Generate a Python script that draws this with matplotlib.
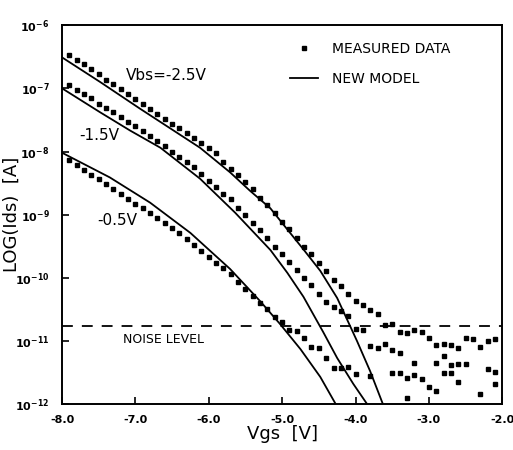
import numpy as np
import matplotlib
matplotlib.use("Agg")
import matplotlib.pyplot as plt

plt.rcParams['font.family'] = 'DejaVu Sans'
plt.rcParams['axes.unicode_minus'] = False

# gate voltage grid of the measured points (0.1 V steps)
vgs = np.round(np.arange(-7.9, -2.05, 0.1), 1)

# measured log10(Ids), one list per substrate bias
meas_25 = [-6.47, -6.55, -6.62, -6.70, -6.78, -6.86, -6.93, -7.01, -7.09, -7.17,
           -7.25, -7.32, -7.40, -7.48, -7.56, -7.63, -7.71, -7.79, -7.86, -7.95,
           -8.03, -8.16, -8.27, -8.38, -8.49, -8.60, -8.73, -8.84, -8.98, -9.11,
           -9.22, -9.37, -9.51, -9.63, -9.76, -9.90, -10.03, -10.13, -10.25, -10.37,
           -10.43, -10.51, -10.57, -10.75, -10.73, -10.86, -10.87, -10.83, -10.86, -10.95,
           -11.06, -11.05, -11.06, -11.11, -10.95, -10.97, -11.10, -11.00, -10.97]
meas_15 = [-6.94, -7.02, -7.09, -7.16, -7.24, -7.31, -7.38, -7.46, -7.53, -7.60,
           -7.68, -7.75, -7.83, -7.91, -8.00, -8.08, -8.17, -8.25, -8.35, -8.46,
           -8.57, -8.67, -8.76, -8.89, -9.00, -9.13, -9.24, -9.37, -9.51, -9.62,
           -9.75, -9.87, -10.00, -10.11, -10.25, -10.38, -10.46, -10.52, -10.60, -10.81,
           -10.83, -11.08, -11.11, -11.05, -11.14, -11.19, -11.59, -11.35, -11.60, -11.73,
           -11.35, -11.24, -11.38, -11.37, -11.37, np.nan, -11.84, -11.44, -11.49]
meas_05 = [-8.13, -8.21, -8.29, -8.37, -8.44, -8.52, -8.59, -8.67, -8.75, -8.83,
           -8.90, -8.98, -9.06, -9.13, -9.21, -9.29, -9.38, -9.48, -9.57, -9.67,
           -9.76, -9.84, -9.94, -10.06, -10.17, -10.29, -10.40, -10.49, -10.62, -10.70,
           -10.83, -10.84, -10.95, -11.10, -11.11, -11.27, -11.43, -11.43, -11.41, -11.52,
           np.nan, -11.56, np.nan, np.nan, -11.51, -11.51, -11.90, -11.54, np.nan, np.nan,
           -11.79, -11.51, -11.51, -11.65, np.nan, np.nan, np.nan, np.nan, -11.68]

# model curves (Vgs, log10(Ids))
mod_25_x = [-8.00, -7.48, -6.94, -6.53, -6.12, -5.71, -5.44, -5.16, -4.96, -4.71, -4.48, -4.25, -3.98, -3.80, -3.62]
mod_25_y = [-6.51, -6.90, -7.32, -7.63, -7.94, -8.33, -8.62, -8.90, -9.19, -9.55, -9.89, -10.32, -11.00, -11.48, -12.02]
mod_15_x = [-8.00, -7.48, -7.07, -6.66, -6.12, -5.64, -5.16, -4.93, -4.71, -4.44, -4.25, -4.03, -3.83]
mod_15_y = [-7.00, -7.38, -7.67, -7.94, -8.43, -8.97, -9.56, -9.92, -10.30, -10.86, -11.27, -11.68, -12.02]
mod_05_x = [-8.00, -7.35, -6.80, -6.25, -5.71, -5.30, -5.03, -4.75, -4.48, -4.26]
mod_05_y = [-8.02, -8.41, -8.81, -9.29, -9.86, -10.37, -10.73, -11.13, -11.57, -12.02]

noise_level = 1.75e-11

fig = plt.figure(figsize=(5.13, 4.5), dpi=100)
ax = fig.add_axes([0.121, 0.102, 0.858, 0.842])

for i, m in enumerate([meas_25, meas_15, meas_05]):
    ax.semilogy(vgs, 10.0 ** np.array(m), ls='none', marker='s', ms=3.0,
                color='black', label='MEASURED DATA' if i == 0 else None)
for i, (mx, my) in enumerate([(mod_25_x, mod_25_y), (mod_15_x, mod_15_y), (mod_05_x, mod_05_y)]):
    ax.semilogy(mx, 10.0 ** np.array(my), color='black', lw=1.3,
                label='NEW MODEL' if i == 0 else None)

ax.axhline(noise_level, color='black', lw=1.3, dashes=(6, 5))

ax.set_xlim(-8, -2)
ax.set_ylim(1e-12, 1e-6)
ax.set_xticks([-8, -7, -6, -5, -4, -3, -2])
ax.set_xticklabels(['-8.0', '-7.0', '-6.0', '-5.0', '-4.0', '-3.0', '-2.0'])
ax.set_yticks([1e-12, 1e-11, 1e-10, 1e-9, 1e-8, 1e-7, 1e-6])
ax.minorticks_off()
ax.tick_params(direction='in', length=5, width=1.2, labelsize=8)
ax.tick_params(axis='x', pad=8)
ax.tick_params(axis='y', pad=9)
for lab in ax.get_xticklabels() + ax.get_yticklabels():
    lab.set_fontweight('bold')
for s in ax.spines.values():
    s.set_linewidth(1.4)

ax.set_xlabel('Vgs  [V]', fontsize=13, labelpad=0)
ax.set_ylabel('LOG(Ids)  [A]', fontsize=13)
ax.yaxis.set_label_coords(-0.095, 0.5)

ax.text(-6.58, 10 ** -6.79, 'Vbs=-2.5V', fontsize=11, ha='center', va='center')
ax.text(-7.50, 10 ** -7.75, '-1.5V', fontsize=11, ha='center', va='center')
ax.text(-7.25, 10 ** -9.10, '-0.5V', fontsize=11, ha='center', va='center')
ax.text(-6.62, 10 ** -10.97, 'NOISE LEVEL', fontsize=9, ha='center', va='center')

ax.legend(loc='upper left', bbox_to_anchor=(0.518, 0.955), frameon=False,
          fontsize=10, handlelength=2.0, handletextpad=1.0, labelspacing=1.1,
          borderpad=0, borderaxespad=0, markerscale=1.2)

fig.savefig('out.png', dpi=100)
